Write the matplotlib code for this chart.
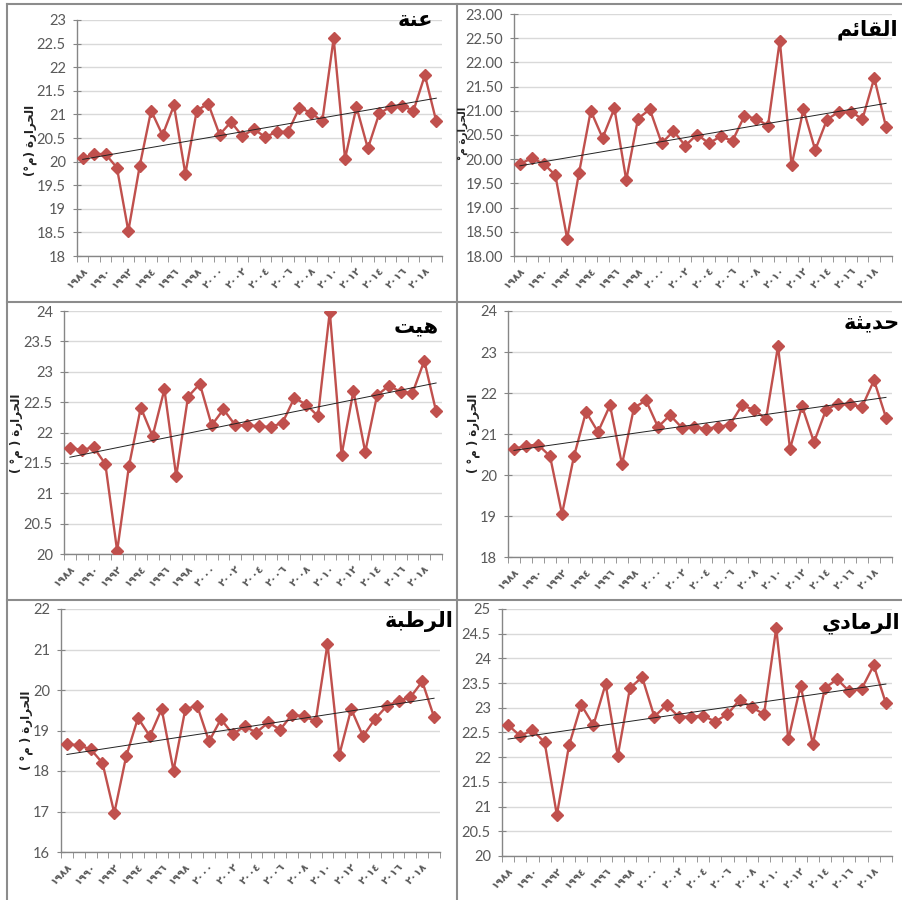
import numpy as np
import matplotlib
matplotlib.use('Agg')
import matplotlib.pyplot as plt
from matplotlib.lines import Line2D
from matplotlib.ticker import FixedLocator, FormatStrFormatter, MultipleLocator

# ── Data: annual mean temperature (°C), 1988-2019 ───────────────────────────
years = list(range(1988, 2020))

anah = [20.07, 20.16, 20.16, 19.87, 18.53, 19.91, 21.08, 20.56, 21.19, 19.74,
        21.08, 21.23, 20.57, 20.84, 20.54, 20.69, 20.52, 20.63, 20.63, 21.14,
        21.04, 20.85, 22.61, 20.06, 21.16, 20.28, 21.02, 21.16, 21.18, 21.08,
        21.83, 20.85]
qaim = [19.90, 20.02, 19.91, 19.67, 18.36, 19.71, 21.00, 20.44, 21.05, 19.57,
        20.84, 21.03, 20.33, 20.58, 20.28, 20.51, 20.33, 20.47, 20.38, 20.89,
        20.84, 20.69, 22.45, 19.87, 21.03, 20.19, 20.82, 20.98, 20.98, 20.83,
        21.68, 20.66]
hit = [21.75, 21.71, 21.76, 21.48, 20.05, 21.45, 22.41, 21.94, 22.71, 21.28,
       22.59, 22.80, 22.12, 22.38, 22.12, 22.12, 22.10, 22.09, 22.16, 22.57,
       22.46, 22.27, 23.99, 21.63, 22.68, 21.68, 22.61, 22.77, 22.67, 22.65,
       23.18, 22.35]
haditha = [20.64, 20.71, 20.74, 20.46, 19.05, 20.46, 21.54, 21.05, 21.70, 20.26,
           21.64, 21.82, 21.17, 21.46, 21.15, 21.17, 21.13, 21.17, 21.23, 21.70,
           21.59, 21.37, 23.14, 20.64, 21.68, 20.80, 21.59, 21.74, 21.72, 21.66,
           22.31, 21.40]
rutba = [18.67, 18.63, 18.54, 18.20, 16.96, 18.36, 19.31, 18.86, 19.53, 18.01,
         19.53, 19.61, 18.73, 19.28, 18.91, 19.10, 18.95, 19.20, 19.02, 19.39,
         19.35, 19.23, 21.14, 18.40, 19.53, 18.86, 19.28, 19.60, 19.74, 19.82,
         20.21, 19.33]
ramadi = [22.65, 22.43, 22.55, 22.30, 20.83, 22.24, 23.06, 22.65, 23.48, 22.03,
          23.40, 23.62, 22.82, 23.06, 22.82, 22.82, 22.84, 22.72, 22.87, 23.16,
          23.01, 22.87, 24.61, 22.36, 23.45, 22.27, 23.40, 23.58, 23.33, 23.38,
          23.86, 23.09]

station_names = ['عنة', 'القائم', 'هيت', 'حديثة', 'الرطبة', 'الرمادي']
y_title = 'الحرارة'

# ── Arabic shaping (no complex text layout in matplotlib) ────────────────────
FORMS = {
    'ا': (0xFE8D, 0xFE8E, None, None),
    'ب': (0xFE8F, 0xFE90, 0xFE91, 0xFE92),
    'ة': (0xFE93, 0xFE94, None, None),
    'ت': (0xFE95, 0xFE96, 0xFE97, 0xFE98),
    'ث': (0xFE99, 0xFE9A, 0xFE9B, 0xFE9C),
    'ح': (0xFEA1, 0xFEA2, 0xFEA3, 0xFEA4),
    'د': (0xFEA9, 0xFEAA, None, None),
    'ر': (0xFEAD, 0xFEAE, None, None),
    'ط': (0xFEC1, 0xFEC2, 0xFEC3, 0xFEC4),
    'ع': (0xFEC9, 0xFECA, 0xFECB, 0xFECC),
    'ق': (0xFED5, 0xFED6, 0xFED7, 0xFED8),
    'ل': (0xFEDD, 0xFEDE, 0xFEDF, 0xFEE0),
    'م': (0xFEE1, 0xFEE2, 0xFEE3, 0xFEE4),
    'ن': (0xFEE5, 0xFEE6, 0xFEE7, 0xFEE8),
    'ه': (0xFEE9, 0xFEEA, 0xFEEB, 0xFEEC),
    'ي': (0xFEF1, 0xFEF2, 0xFEF3, 0xFEF4),
    'ئ': (0xFE89, 0xFE8A, 0xFE8B, 0xFE8C),
}


def shape(word):
    out = []
    for i, ch in enumerate(word):
        if ch not in FORMS:
            out.append(ch)
            continue
        iso, fin, ini, med = FORMS[ch]
        prev = word[i - 1] if i > 0 else ''
        nxt = word[i + 1] if i < len(word) - 1 else ''
        joins_prev = prev in FORMS and FORMS[prev][2] is not None
        joins_next = nxt in FORMS and ini is not None
        if joins_prev and joins_next:
            cp = med
        elif joins_prev:
            cp = fin
        elif joins_next:
            cp = ini
        else:
            cp = iso
        out.append(chr(cp))
    return ''.join(reversed(out))


AR_DIGITS = str.maketrans('0123456789', '٠١٢٣٤٥٦٧٨٩')
year_labels = [str(y).translate(AR_DIGITS) if (y - 1988) % 2 == 0 else ''
               for y in years]

m = shape('م')
ylabels = ['(°' + m + ') ' + shape(y_title),
           '°' + m + ' ' + shape(y_title),
           '( °' + m + ' ) ' + shape(y_title),
           '( °' + m + ' ) ' + shape(y_title),
           '( °' + m + ' ) ' + shape(y_title),
           None]

series = [anah, qaim, hit, haditha, rutba, ramadi]

# panel geometry in pixels: (left, top, right, bottom) of the plot area
W, H = 902, 900
boxes = [(77, 20, 442, 256), (514, 14, 892, 256),
         (64, 311, 442, 554), (508, 311, 892, 557),
         (61, 609, 440, 852), (502, 609, 892, 856)]
ylims = [(18, 23), (18, 23), (20, 24), (18, 24), (16, 22), (20, 25)]
ysteps = [0.5, 0.5, 0.5, 1, 1, 0.5]
yfmts = ['%g', '%.2f', '%g', '%g', '%g', '%g']
ylabel_pos = [(30, 140), (463, 133), (16, 433), (473, 433), (26, 730), None]
ylabel_size = [8.5, 7.5, 8.5, 8.5, 8.5, 8.5]
title_pos = [(433, 20), (898, 30), (439, 327), (900, 322), (453, 622), (900, 623)]

RED = '#C0504D'
TICK_GREY = '#595959'
AXIS_GREY = '#868686'
GRID_GREY = '#D9D9D9'

fig = plt.figure(figsize=(W / 100, H / 100), dpi=100)
fig.patch.set_facecolor('white')

x = np.arange(len(years))
for k, vals in enumerate(series):
    l, t, r, b = boxes[k]
    ax = fig.add_axes([l / W, 1 - b / H, (r - l) / W, (b - t) / H])
    vals = np.array(vals)

    ax.plot(x, vals, color=RED, lw=1.7, marker='D', ms=6.6,
            markerfacecolor=RED, markeredgecolor=RED, zorder=3)
    coef = np.polyfit(x, vals, 1)
    ax.plot(x, np.polyval(coef, x), color='#222222', lw=0.7, zorder=4)

    ax.set_xlim(-0.5, len(years) - 0.5)
    ax.set_ylim(*ylims[k])
    ax.yaxis.set_major_locator(MultipleLocator(ysteps[k]))
    ax.yaxis.set_major_formatter(FormatStrFormatter(yfmts[k]))
    ax.grid(axis='y', color=GRID_GREY, lw=1.0, zorder=0)
    ax.set_axisbelow(True)

    for s in ['top', 'right']:
        ax.spines[s].set_visible(False)
    for s in ['left', 'bottom']:
        ax.spines[s].set_color(AXIS_GREY)
        ax.spines[s].set_linewidth(1.0)

    # category labels at centres, tick marks on boundaries
    ax.xaxis.set_major_locator(FixedLocator(x))
    ax.set_xticklabels(year_labels, rotation=45, ha='right', va='top',
                       rotation_mode='anchor', fontsize=7.5,
                       color=TICK_GREY, family='DejaVu Sans',
                       fontweight='bold')
    ax.tick_params(axis='x', which='major', length=0, pad=7)
    ax.xaxis.set_minor_locator(FixedLocator(np.arange(-0.5, len(years), 1)))
    ax.tick_params(axis='x', which='minor', length=4, color=AXIS_GREY,
                   direction='out')
    ax.tick_params(axis='y', length=6, direction='inout', color=AXIS_GREY,
                   labelsize=10.5, labelcolor=TICK_GREY, pad=5)
    for lab in ax.get_yticklabels():
        lab.set_family('Lato')

    if ylabel_pos[k] is not None:
        px, py = ylabel_pos[k]
        fig.text(px / W, 1 - py / H, ylabels[k], rotation=90,
                 ha='center', va='center', fontsize=ylabel_size[k],
                 fontweight='bold', family='DejaVu Sans', color='#222222')

    tx, ty = title_pos[k]
    fig.text(tx / W, 1 - ty / H, shape(station_names[k]), ha='right',
             va='center', fontsize=15, fontweight='bold',
             family='DejaVu Sans', color='black')

# panel frame lines
FRAME = '#8C8C8C'
for xs, ys in [((7, 902), (4, 4)), ((7, 7), (4, 900)),
               ((457, 457), (4, 900)), ((7, 902), (302, 302)),
               ((7, 902), (600, 600))]:
    fig.add_artist(Line2D([xs[0] / W, xs[1] / W],
                          [1 - ys[0] / H, 1 - ys[1] / H],
                          color=FRAME, lw=1.5, transform=fig.transFigure))

fig.savefig('out.png', dpi=100)
